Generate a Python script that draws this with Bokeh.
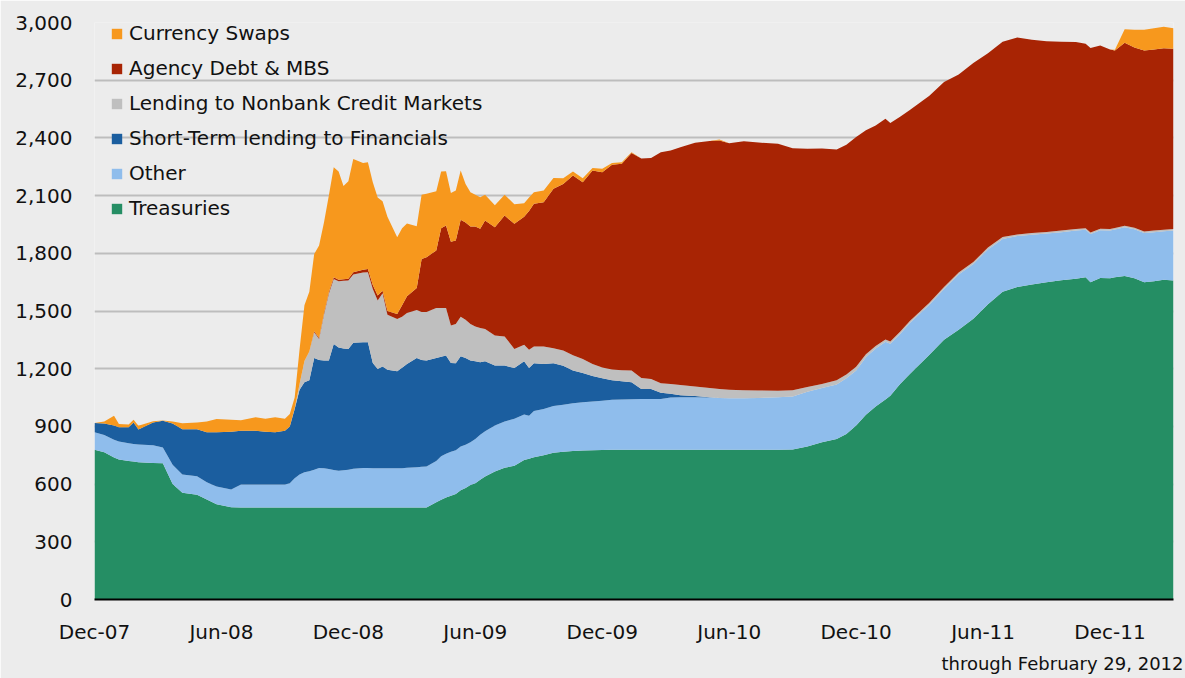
from bokeh.plotting import figure
from bokeh.models import (ColumnDataSource, Range1d, Legend, LegendItem, Title,
                          FixedTicker, NumeralTickFormatter)
from bokeh.embed import file_html
from bokeh.resources import INLINE

# week index (0 = first week of Dec 2007, 221 = Feb 29, 2012)
weeks = [0, 2, 4, 5, 7, 8, 9, 12, 14, 16,
         18, 21, 23, 25, 28, 30, 33, 35, 37, 39,
         40, 41, 42, 43, 44, 45, 46, 47, 48, 49,
         50, 51, 52, 53, 55, 56, 57, 58, 59, 60,
         62, 63, 64, 66, 67, 68, 70, 71, 72, 73,
         74, 75, 76, 77, 78, 79, 80, 82, 84, 86,
         88, 89, 90, 92, 94, 96, 98, 100, 102, 104,
         106, 108, 110, 112, 114, 116, 118, 120, 123, 126,
         128, 130, 133, 136, 140, 143, 146, 149, 152, 154,
         156, 158, 160, 162, 163, 165, 167, 171, 174, 177,
         180, 183, 186, 189, 192, 195, 198, 201, 203, 204,
         206, 208, 209, 211, 213, 215, 217, 219, 221]

treasuries = [778, 765, 738, 728, 720, 717, 714, 710, 708, 600,
              555, 545, 520, 495, 480, 478, 478, 478, 478, 478,
              478, 478, 478, 478, 478, 478, 478, 478, 478, 478,
              478, 478, 478, 478, 478, 478, 478, 478, 478, 478,
              478, 478, 478, 478, 478, 478, 505, 518, 530, 540,
              548, 568, 580, 595, 605, 622, 640, 665, 685, 695,
              725, 732, 740, 750, 763, 768, 772, 775, 776, 777,
              778, 778, 778, 778, 778, 778, 778, 778, 778, 778,
              778, 778, 778, 778, 778, 780, 795, 818, 835, 860,
              905, 960, 1004, 1040, 1060, 1120, 1172, 1272, 1350, 1403,
              1460, 1535, 1600, 1625, 1638, 1650, 1660, 1668, 1676, 1650,
              1672, 1670, 1675, 1682, 1670, 1650, 1655, 1662, 1658]

other = [91, 90, 92, 94, 92, 91, 92, 92, 82, 100,
         95, 96, 90, 93, 92, 120, 120, 120, 120, 120,
         127, 152, 172, 184, 189, 197, 206, 204, 200, 195,
         192, 194, 197, 202, 206, 206, 205, 205, 205, 205,
         205, 205, 207, 210, 212, 213, 215, 227, 228, 228,
         228, 227, 225, 223, 230, 235, 235, 240, 240, 245,
         237, 224, 240, 240, 243, 244, 248, 251, 254, 257,
         260, 262, 263, 264, 265, 265, 272, 274, 274, 272,
         270, 269, 268, 270, 273, 275, 285, 282, 283, 290,
         285, 300, 301, 300, 270, 260, 265, 261, 265, 287,
         285, 285, 275, 265, 259, 253, 250, 250, 246, 250,
         248, 248, 249, 253, 255, 255, 255, 253, 260]

short_term = [49, 60, 75, 74, 83, 112, 78, 118, 140, 215,
              235, 244, 260, 282, 300, 279, 280, 274, 272, 280,
              295, 360, 440, 468, 473, 580, 561, 560, 564, 656,
              640, 633, 628, 655, 654, 654, 547, 516, 528, 512,
              504, 522, 540, 567, 555, 552, 535, 517, 510, 462,
              452, 470, 450, 424, 404, 377, 364, 311, 291, 263,
              277, 248, 248, 235, 222, 203, 170, 152, 132, 116,
              102, 95, 89, 53, 52, 32, 20, 10, 6, 2,
              0, 0, 0, 0, 0, 0, 0, 0, 0, 0,
              0, 0, 0, 0, 0, 0, 0, 0, 0, 0,
              0, 0, 0, 0, 0, 0, 0, 0, 0, 0,
              0, 0, 0, 0, 0, 0, 0, 0, 0]

nonbank = [0, 0, 0, 0, 0, 0, 0, 0, 0, 0,
           0, 0, 0, 0, 0, 0, 0, 0, 0, 0,
           0, 5, 30, 110, 150, 135, 110, 238, 348, 338,
           345, 352, 355, 355, 362, 364, 385, 356, 381, 285,
           272, 265, 265, 250, 250, 252, 261, 254, 248, 194,
           205, 205, 200, 191, 181, 178, 168, 156, 151, 100,
           86, 94, 87, 90, 78, 80, 80, 72, 63, 56,
           56, 57, 60, 57, 52, 50, 51, 53, 50, 48,
           47, 43, 42, 39, 35, 33, 25, 20, 22, 20,
           20, 15, 13, 12, 12, 12, 11, 10, 10, 10,
           10, 10, 10, 8, 8, 8, 8, 8, 8, 8,
           8, 8, 8, 8, 8, 8, 8, 8, 8]

agency = [0, 0, 0, 0, 0, 0, 0, 0, 0, 0,
          0, 0, 0, 0, 0, 0, 0, 0, 0, 0,
          0, 0, 0, 0, 0, 5, 5, 7, 7, 8,
          8, 8, 10, 12, 15, 17, 20, 25, 13, 20,
          26, 60, 87, 115, 275, 285, 298, 414, 428, 436,
          433, 505, 505, 506, 519, 515, 563, 563, 629, 650,
          665, 722, 742, 750, 829, 865, 934, 920, 1005, 1016,
          1064, 1074, 1132, 1141, 1149, 1200, 1213, 1236, 1267, 1284,
          1291, 1282, 1295, 1289, 1283, 1258, 1238, 1225, 1200, 1195,
          1195, 1165, 1147, 1148, 1136, 1118, 1097, 1076, 1065, 1030,
          1035, 1010, 1015, 1024, 1005, 991, 982, 972, 960, 960,
          952, 934, 923, 952, 937, 941, 942, 943, 937]

swaps = [0, 10, 51, 17, 15, 14, 20, 7, 1, 10,
         32, 35, 55, 68, 62, 55, 70, 68, 78, 62,
         65, 55, 180, 290, 310, 402, 480, 473, 503, 572,
         562, 485, 507, 588, 555, 554, 535, 510, 465, 490,
         399, 400, 378, 320, 335, 330, 309, 295, 283, 253,
         260, 255, 200, 178, 166, 164, 135, 115, 109, 102,
         70, 70, 60, 61, 57, 30, 21, 20, 14, 18,
         10, 7, 3, 0, 0, 0, 0, 0, 0, 0,
         6, 0, 0, 0, 0, 0, 0, 0, 0, 0,
         0, 0, 0, 0, 0, 0, 0, 0, 0, 0,
         0, 0, 0, 0, 0, 0, 0, 0, 0, 0,
         0, 0, 3, 70, 92, 108, 110, 112, 107]

series_names = ["Treasuries", "Other", "Short-Term lending to Financials",
                "Lending to Nonbank Credit Markets", "Agency Debt & MBS",
                "Currency Swaps"]

tick_weeks = [0, 26, 52, 78, 104, 130, 156, 182, 208]
tick_labels = ["Dec-07", "Jun-08", "Dec-08", "Jun-09", "Dec-09",
               "Jun-10", "Dec-10", "Jun-11", "Dec-11"]
y_ticks = [0, 300, 600, 900, 1200, 1500, 1800, 2100, 2400, 2700, 3000]

footnote = "through February 29, 2012"

FONT = "DejaVu Sans"
TEXT = "#111111"
BG = "#ececec"

source = ColumnDataSource(dict(week=weeks, treasuries=treasuries, other=other,
                               short_term=short_term, nonbank=nonbank,
                               agency=agency, swaps=swaps))

p = figure(width=1185, height=678, output_backend="svg", toolbar_location=None,
           x_range=Range1d(0, 221), y_range=Range1d(0, 3000),
           min_border_left=94, min_border_right=12, min_border_top=22,
           min_border_bottom=10, background_fill_color=BG,
           border_fill_color=BG, outline_line_color=None)

stackers = ["treasuries", "other", "short_term", "nonbank", "agency", "swaps"]
colors = ["#258E64", "#8FBDEC", "#1B5E9F", "#BFBFBF", "#A82404", "#F7981D"]
rends = p.varea_stack(stackers=stackers, x="week", color=colors, source=source)

items = [LegendItem(label=n, renderers=[r]) for n, r in zip(series_names, rends)][::-1]
legend = Legend(items=items, location=(16, 379), margin=0, padding=0,
                glyph_width=13, glyph_height=13, label_height=24, spacing=11,
                label_standoff=6, label_text_font=FONT, label_text_font_size="20px",
                label_text_color=TEXT, background_fill_alpha=0,
                border_line_color=None)
p.add_layout(legend)

# axes
p.xaxis.ticker = FixedTicker(ticks=tick_weeks)
p.xaxis.major_label_overrides = {w: l for w, l in zip(tick_weeks, tick_labels)}
p.xaxis.axis_line_color = "#000000"
p.xaxis.axis_line_width = 2
p.xaxis.major_tick_line_color = None
p.xaxis.minor_tick_line_color = None
p.xaxis.major_tick_in = 0
p.xaxis.major_tick_out = 0
p.xaxis.major_label_standoff = 20
p.xaxis.major_label_text_font = FONT
p.xaxis.major_label_text_font_size = "20px"
p.xaxis.major_label_text_color = TEXT

p.yaxis.ticker = FixedTicker(ticks=y_ticks)
p.yaxis.formatter = NumeralTickFormatter(format="0,0")
p.yaxis.axis_line_color = None
p.yaxis.major_tick_line_color = None
p.yaxis.minor_tick_line_color = None
p.yaxis.major_tick_in = 0
p.yaxis.major_tick_out = 0
p.yaxis.major_label_standoff = 22
p.yaxis.major_label_text_font = FONT
p.yaxis.major_label_text_font_size = "20px"
p.yaxis.major_label_text_color = TEXT

p.xgrid.grid_line_color = None
p.ygrid.ticker = FixedTicker(ticks=y_ticks)
p.ygrid.grid_line_color = "#bdbdbd"
p.ygrid.grid_line_width = 2

p.add_layout(Title(text=footnote, align="right", offset=-10, standoff=9,
                   text_font=FONT, text_font_size="18px", text_font_style="normal",
                   text_color=TEXT), "below")

open("out.html", "w").write(file_html(p, INLINE))
